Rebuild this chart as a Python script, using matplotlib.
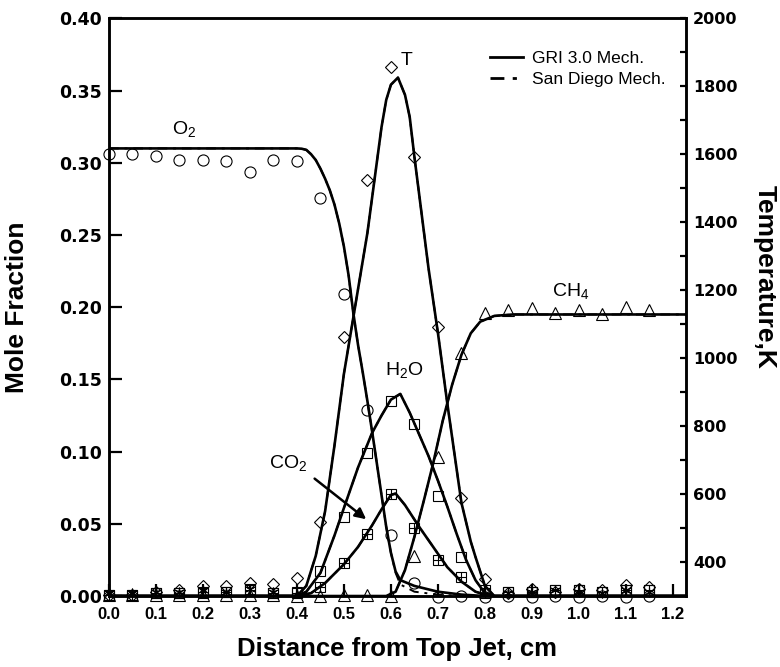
import numpy as np
import matplotlib.pyplot as plt

plt.rcParams['font.family'] = ['Liberation Sans', 'DejaVu Sans']
plt.rcParams['mathtext.default'] = 'regular'

# ---- model curves ----
# O2 mole fraction, GRI 3.0
o2_x = [0.0, 0.40, 0.41, 0.42, 0.43, 0.44, 0.45, 0.46, 0.47, 0.48, 0.49, 0.50, 0.51, 0.52,
        0.53, 0.54, 0.55, 0.56, 0.57, 0.58, 0.59, 0.60, 0.61, 0.62, 0.65, 0.70, 0.75, 0.80, 1.23]
o2_gri = [0.310, 0.310, 0.3098, 0.309, 0.306, 0.302, 0.296, 0.289, 0.281, 0.271, 0.258,
          0.242, 0.222, 0.196, 0.174, 0.155, 0.135, 0.114, 0.092, 0.070, 0.048, 0.030,
          0.017, 0.011, 0.007, 0.003, 0.001, 0.0, 0.0]
# O2 San Diego (differs only in the tail)
o2_sd = [0.310, 0.310, 0.3098, 0.309, 0.306, 0.302, 0.296, 0.289, 0.281, 0.271, 0.258,
         0.242, 0.222, 0.196, 0.174, 0.155, 0.135, 0.114, 0.092, 0.070, 0.048, 0.030,
         0.016, 0.008, 0.003, 0.001, 0.0, 0.0, 0.0]

# Temperature, K
t_x = [0.0, 0.40, 0.42, 0.44, 0.46, 0.48, 0.50, 0.52, 0.55, 0.58, 0.59, 0.60, 0.615,
       0.63, 0.64, 0.65, 0.68, 0.70, 0.72, 0.75, 0.77, 0.78, 0.80, 0.82, 1.23]
t_model = [300, 300, 330, 418, 550, 744, 954, 1120, 1369, 1680, 1760, 1805, 1826,
           1775, 1710, 1593, 1265, 1075, 867, 575, 460, 415, 330, 300, 300]

# H2O
h2o_x = [0.0, 0.40, 0.42, 0.45, 0.48, 0.50, 0.53, 0.56, 0.58, 0.60, 0.62, 0.64, 0.66,
         0.68, 0.70, 0.72, 0.74, 0.76, 0.78, 0.80, 0.82, 1.23]
h2o_model = [0.0, 0.0, 0.003, 0.016, 0.042, 0.061, 0.089, 0.113, 0.125, 0.136, 0.140,
             0.127, 0.112, 0.097, 0.080, 0.062, 0.043, 0.025, 0.011, 0.002, 0.0, 0.0]

# CO2
co2_x = [0.0, 0.40, 0.43, 0.46, 0.50, 0.53, 0.56, 0.58, 0.60, 0.61, 0.63, 0.66, 0.69,
         0.72, 0.75, 0.78, 0.81, 1.23]
co2_model = [0.0, 0.0, 0.002, 0.009, 0.022, 0.034, 0.049, 0.060, 0.070, 0.071, 0.063,
             0.048, 0.034, 0.020, 0.010, 0.003, 0.0, 0.0]

# CH4
ch4_x = [0.0, 0.59, 0.61, 0.63, 0.65, 0.67, 0.69, 0.71, 0.73, 0.75, 0.77, 0.79, 0.82, 0.86, 1.23]
ch4_model = [0.0, 0.0, 0.003, 0.018, 0.041, 0.066, 0.092, 0.121, 0.146, 0.167, 0.182,
             0.190, 0.194, 0.195, 0.195]

# ---- measurements ----
x_data = [0.0, 0.05, 0.1, 0.15, 0.2, 0.25, 0.3, 0.35, 0.4, 0.45, 0.5, 0.55,
          0.6, 0.65, 0.7, 0.75, 0.8, 0.85, 0.9, 0.95, 1.0, 1.05, 1.1, 1.15]
o2_data = [0.306, 0.306, 0.305, 0.302, 0.302, 0.301, 0.294, 0.302, 0.301, 0.276, 0.209, 0.129,
           0.042, 0.009, -0.001, 0.000, -0.001, 0.000, -0.001, 0.000, -0.001, 0.000, -0.001, 0.000]
t_data = [304, 304, 313, 317, 330, 330, 338, 335, 353, 518, 1063, 1526,
          1858, 1593, 1093, 589, 351, 309, 321, 313, 321, 317, 332, 326]
h2o_data = [0.001, 0.001, 0.002, 0.002, 0.002, 0.003, 0.005, 0.002, 0.003, 0.017, 0.055, 0.099,
            0.135, 0.119, 0.069, 0.027, 0.004, 0.003, 0.003, 0.004, 0.004, 0.003, 0.004, 0.004]
co2_data = [0.001, 0.001, 0.002, 0.002, 0.003, 0.003, 0.004, 0.002, 0.002, 0.006, 0.023, 0.043,
            0.071, 0.047, 0.025, 0.013, 0.002, 0.003, 0.003, 0.004, 0.004, 0.003, 0.004, 0.004]
ch4_data = [0.001, 0.001, 0.001, 0.001, 0.001, 0.001, 0.001, 0.001, 0.000, 0.000, 0.001, 0.001,
            0.000, 0.028, 0.096, 0.168, 0.196, 0.198, 0.1995, 0.196, 0.198, 0.1955, 0.2005, 0.198]
# small unlabeled species near zero (asterisks)
minor_x = [0.0, 0.05, 0.1, 0.15, 0.2, 0.25, 0.3, 0.35, 0.85, 0.9, 0.95, 1.0, 1.05, 1.1, 1.15]
minor_data = [0.002, 0.002, 0.003, 0.003, 0.004, 0.003, 0.005, 0.003,
              0.002, 0.003, 0.004, 0.003, 0.002, 0.004, 0.003]

fig = plt.figure(figsize=(7.8, 6.67), dpi=100)
ax = fig.add_axes([0.1397, 0.1064, 0.7398, 0.8659])
ax2 = ax.twinx()

lw = 1.9
sd_style = (0, (5, 3, 1.5, 3))

# model lines
for xs, ys in [(o2_x, o2_gri), (h2o_x, h2o_model), (co2_x, co2_model), (ch4_x, ch4_model)]:
    ax.plot(xs, ys, color='black', lw=lw)
ax.plot(o2_x, o2_sd, color='black', lw=1.4, linestyle=sd_style)
for xs, ys in [(h2o_x, h2o_model), (co2_x, co2_model), (ch4_x, ch4_model)]:
    ax.plot(xs, ys, color='black', lw=1.4, linestyle=sd_style)
ax2.plot(t_x, t_model, color='black', lw=lw)
ax2.plot(t_x, t_model, color='black', lw=1.4, linestyle=sd_style)

# measured points
mk = dict(linestyle='none', markerfacecolor='none', markeredgecolor='black',
          markeredgewidth=0.8, clip_on=False)
ax.plot(x_data, o2_data, marker='o', markersize=8, **mk)
ax.plot(x_data, h2o_data, marker='s', markersize=7, **mk)
ax.plot(x_data, co2_data, marker='s', markersize=7, **mk)
ax.plot(x_data, co2_data, marker='+', markersize=7, **mk)
ax.plot(x_data, ch4_data, marker='^', markersize=8, **mk)
ax.plot(minor_x, minor_data, marker=(6, 2, 0), markersize=7, **mk)
ax2.plot(x_data, t_data, marker='D', markersize=6, **mk)

# species labels
lab = dict(fontsize=14, color='black')
ax.text(0.135, 0.32, 'O$_2$', **lab)
ax.text(0.62, 0.368, 'T', **lab)
ax.text(0.943, 0.208, 'CH$_4$', **lab)
ax.text(0.588, 0.153, 'H$_2$O', **lab)
ax.text(0.34, 0.089, 'CO$_2$', **lab)
ax.annotate('', xy=(0.552, 0.052), xytext=(0.433, 0.0825),
            arrowprops=dict(arrowstyle='-|>', color='black', lw=1.8, mutation_scale=16))

# legend
ax.plot([], [], color='black', lw=2, label='GRI 3.0 Mech.')
ax.plot([], [], color='black', lw=2, linestyle=sd_style, label='San Diego Mech.')
ax.legend(loc='upper right', bbox_to_anchor=(0.976, 0.956), frameon=False, fontsize=12.5,
          handlelength=1.9, handletextpad=0.52, labelspacing=0.32, borderaxespad=0)

# axes
ax.set_xlim(0.0, 1.228)
ax.set_ylim(0.0, 0.40)
ax2.set_ylim(300, 2000)
ax.set_xticks(np.arange(0, 13) / 10)
ax.set_xticklabels([f'{v/10:.1f}' for v in range(13)])
ax.set_yticks(np.arange(0, 9) * 0.05)
ax.set_yticklabels([f'{v*0.05:.2f}' for v in range(9)])
ax2.set_yticks(np.arange(400, 2001, 200))
ax2.set_yticks(np.arange(300, 2001, 100), minor=True)

ax.tick_params(axis='x', direction='in', length=9, width=1.6, pad=8, labelsize=12, top=False)
ax.tick_params(axis='y', direction='in', length=9, width=1.6, pad=5, labelsize=12.5, right=False)
ax2.tick_params(axis='y', which='both', direction='in', length=4.5, width=1.6, pad=5, labelsize=11.5)
for lbl in ax.get_xticklabels():
    lbl.set_fontweight('bold')
for lbl in ax.get_yticklabels() + ax2.get_yticklabels():
    lbl.set_fontweight('bold')
    lbl.set_family('DejaVu Sans')

for a in (ax, ax2):
    for s in a.spines.values():
        s.set_linewidth(1.8)

ax.set_xlabel('Distance from Top Jet, cm', fontsize=18.5, fontweight='bold')
ax.xaxis.set_label_coords(0.5, -0.071)
ax.set_ylabel('Mole Fraction', fontsize=19, fontweight='bold')
ax.yaxis.set_label_coords(-0.138, 0.50)
ax2.set_ylabel('Temperature,K', fontsize=19, fontweight='bold', rotation=270)
ax2.yaxis.set_label_coords(1.158, 0.553)

fig.savefig('out.png', dpi=100)
